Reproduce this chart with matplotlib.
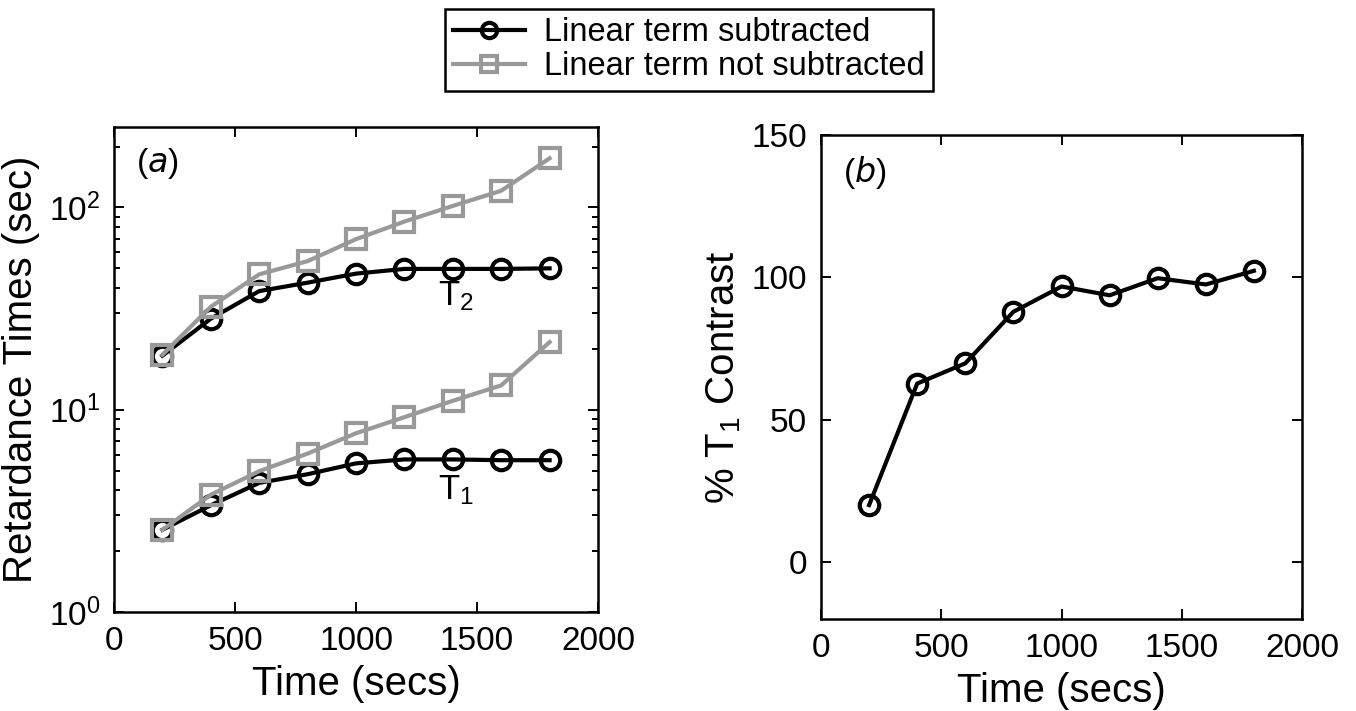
import matplotlib
matplotlib.use('Agg')
import matplotlib.pyplot as plt
from matplotlib.ticker import LogLocator, MultipleLocator

plt.rcParams['font.family'] = ['Liberation Sans', 'DejaVu Sans']
plt.rcParams['mathtext.default'] = 'regular'

# data
time_s = [200, 400, 600, 800, 1000, 1200, 1400, 1600, 1800]
t2_sub = [18.5, 28.2, 38.6, 42.5, 47.1, 49.7, 49.7, 49.7, 50.0]
t2_nosub = [18.7, 32.3, 46.7, 54.3, 69.7, 85.2, 101.8, 121.0, 175.0]
t1_sub = [2.55, 3.37, 4.35, 4.80, 5.43, 5.68, 5.68, 5.63, 5.63]
t1_nosub = [2.55, 3.80, 4.97, 6.07, 7.65, 9.19, 11.07, 13.2, 21.6]
t1_contrast = [20.0, 62.7, 69.8, 87.9, 96.8, 93.7, 99.7, 97.5, 102.3]

legend_labels = ['Linear term subtracted', 'Linear term not subtracted']

grey = '#999999'
black_style = dict(color='black', lw=3, marker='o', ms=14, mfc='none', mew=3)
grey_style = dict(color=grey, lw=3, marker='s', ms=15, mfc='none', mew=3)


def style_axes(ax):
    for s in ax.spines.values():
        s.set_linewidth(1.8)
    ax.tick_params(which='both', direction='in', top=True, right=True,
                   labelsize=24, width=1.4, pad=10)
    ax.tick_params(which='major', length=7)
    ax.tick_params(which='minor', length=4)


fig = plt.figure(figsize=(13.56, 7.11), dpi=100)

# (a) retardance times
ax1 = fig.add_axes([114 / 1356, 99 / 711, 484 / 1356, 485 / 711])
l1, = ax1.plot(time_s, t2_sub, **black_style)
l2, = ax1.plot(time_s, t2_nosub, **grey_style)
ax1.plot(time_s, t1_sub, **black_style)
ax1.plot(time_s, t1_nosub, **grey_style)
ax1.set_yscale('log')
ax1.set_xlim(0, 2000)
ax1.set_ylim(1, 250)
ax1.xaxis.set_major_locator(MultipleLocator(500))
ax1.yaxis.set_major_locator(LogLocator(base=10))
ax1.yaxis.set_minor_locator(LogLocator(base=10, subs=range(2, 10)))
ax1.yaxis.set_minor_formatter(plt.NullFormatter())
style_axes(ax1)
ax1.set_xlabel('Time (secs)', fontsize=29, labelpad=6)
ax1.set_ylabel('Retardance Times (sec)', fontsize=29, labelpad=6)
ax1.text(0.045, 0.96, '($\\it{a}$)', transform=ax1.transAxes, fontsize=24, va='top')
ax1.text(1340, 33, 'T$_{2}$', fontsize=25)
ax1.text(1340, 3.6, 'T$_{1}$', fontsize=25)

# (b) T1 contrast
ax2 = fig.add_axes([821 / 1356, 92 / 711, 481 / 1356, 484 / 711])
ax2.plot(time_s, t1_contrast, **black_style)
ax2.set_xlim(0, 2000)
ax2.set_ylim(-20, 150)
ax2.xaxis.set_major_locator(MultipleLocator(500))
ax2.yaxis.set_major_locator(MultipleLocator(50))
style_axes(ax2)
ax2.set_xlabel('Time (secs)', fontsize=29, labelpad=6)
ax2.set_ylabel('% T$_{1}$ Contrast', fontsize=29, labelpad=6)
ax2.text(0.045, 0.96, '($\\it{b}$)', transform=ax2.transAxes, fontsize=24, va='top')

leg = fig.legend([l1, l2], legend_labels, loc='upper center',
                 bbox_to_anchor=(689 / 1356, 1 - 9 / 711), fontsize=23.5,
                 fancybox=False, edgecolor='black', framealpha=1,
                 handlelength=2.2, borderpad=0.25, labelspacing=0.1,
                 handletextpad=0.6, borderaxespad=0)
leg.get_frame().set_linewidth(1.8)
for h in leg.legend_handles:
    h.set_markersize(11)

fig.savefig('out.png', dpi=100)
